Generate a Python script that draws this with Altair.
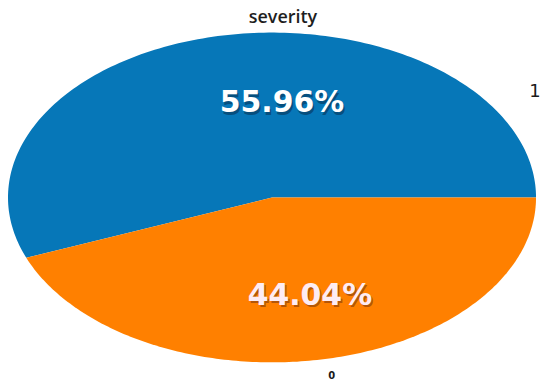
import altair as alt
import pandas as pd

# ---- data ----
categories = ["1", "0"]
shares = [55.96, 44.04]
slice_order = [0, 1]
colors = ["#0677b8", "#ff8000"]
title_text = "severity"

df = pd.DataFrame({"severity": categories, "share": shares, "order": slice_order})

cat_scale = alt.Scale(domain=categories, range=colors)
unit = alt.Scale(domain=[-1, 1])

base = alt.Chart(df)

pie = (
    base.transform_window(cum="sum(share)", sort=[alt.SortField("order")], frame=[None, 0])
    .transform_joinaggregate(total="sum(share)")
    .transform_calculate(
        a0="2*PI*(datum.cum - datum.share)/datum.total",
        a1="2*PI*datum.cum/datum.total",
        pts="sequence(-1, 181)",
    )
    .transform_flatten(["pts"], as_=["k"])
    .transform_calculate(
        ang="datum.a0 + (datum.a1 - datum.a0) * max(datum.k, 0) / 180",
        px="datum.k < 0 ? 0 : cos(datum.ang)",
        py="datum.k < 0 ? 0 : sin(datum.ang)",
    )
    .mark_line(filled=True, strokeWidth=0, interpolate="linear")
    .encode(
        x=alt.X("px:Q", scale=unit, axis=None),
        y=alt.Y("py:Q", scale=unit, axis=None),
        color=alt.Color("severity:N", scale=cat_scale, legend=None),
        detail="severity:N",
        order=alt.Order("k:Q"),
    )
)

def pct_label(i, x, y, fill, shadow):
    lbl = f"{shares[i]:.2f}%"
    sh = alt.Chart(pd.DataFrame({"t": [lbl]})).mark_text(
        font="DejaVu Sans", fontSize=30, fontWeight="bold", color=shadow,
        opacity=0.45, align="center", baseline="alphabetic", dx=1.5, dy=2.5,
    ).encode(x=alt.value(x), y=alt.value(y), text="t:N")
    tx = alt.Chart(pd.DataFrame({"t": [lbl]})).mark_text(
        font="DejaVu Sans", fontSize=30, fontWeight="bold", color=fill,
        align="center", baseline="alphabetic",
    ).encode(x=alt.value(x), y=alt.value(y), text="t:N")
    return sh + tx

def plain_label(text, x, y, size, weight="normal", color="#1a1a1a", font="DejaVu Sans"):
    return alt.Chart(pd.DataFrame({"t": [text]})).mark_text(
        font=font, fontSize=size, fontWeight=weight, color=color,
        align="center", baseline="alphabetic",
    ).encode(x=alt.value(x), y=alt.value(y), text="t:N")

chart = alt.layer(
    pie,
    pct_label(0, 275, 80, "#ffffff", "#06203a"),
    pct_label(1, 303, 273, "#fdecf3", "#5a2410"),
    plain_label(title_text, 276, -9.5, 18, 600, "#1e1e1e", "Open Sans"),
    plain_label(categories[0], 529, 65, 18),
    plain_label(categories[1], 325, 348, 10, "bold"),
).properties(
    width=530,
    height=331,
    padding={"left": 0, "top": 24, "right": 6, "bottom": 20},
    autosize=alt.AutoSizeParams(type="none"),
).configure_view(stroke=None)

chart.save("out.html", embed_options={"renderer": "svg", "actions": False})
